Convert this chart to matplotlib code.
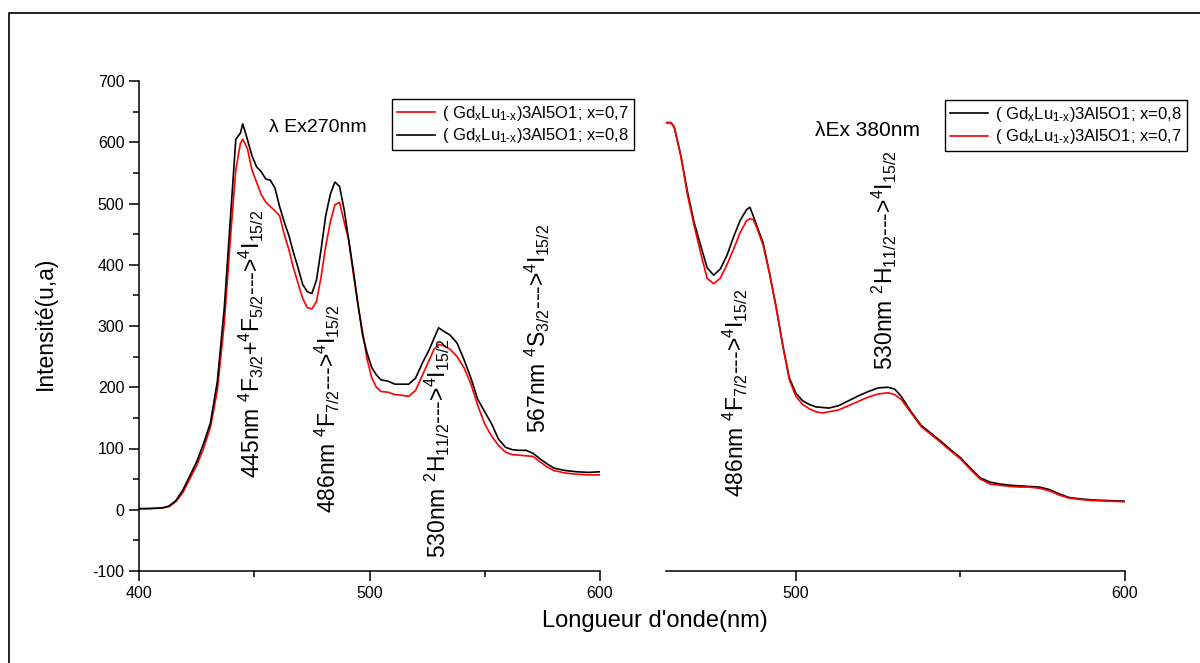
import matplotlib
matplotlib.use('Agg')
import matplotlib.pyplot as plt
from matplotlib.patches import Rectangle
from matplotlib.ticker import MultipleLocator

plt.rcParams['font.family'] = ['Liberation Sans', 'DejaVu Sans']
plt.rcParams['mathtext.default'] = 'regular'
plt.rcParams['axes.unicode_minus'] = False

# excitation at 270 nm
wl_270 = [400, 405, 410, 413, 416, 419, 422, 425, 428, 431, 434, 437, 440, 442, 444, 445,
          447, 449, 451, 453, 455, 457, 459, 461, 463, 465, 467, 469, 471, 473, 475, 477,
          479, 481, 483, 485, 487, 489, 491, 493, 495, 497, 499, 501, 503, 505, 508, 511,
          514, 517, 520, 523, 526, 528, 530, 532, 535, 538, 541, 544, 547, 550, 553, 556,
          559, 562, 565, 568, 571, 574, 577, 580, 585, 590, 595, 600]
i270_x08 = [2, 2, 3, 6, 15, 32, 55, 78, 108, 142, 210, 330, 495, 605, 615, 630,
            605, 578, 560, 552, 540, 538, 525, 495, 470, 448, 420, 395, 368, 356, 353, 375,
            425, 480, 515, 535, 528, 490, 440, 390, 335, 285, 255, 232, 220, 212, 210, 205,
            205, 205, 215, 240, 262, 280, 297, 292, 285, 272, 245, 215, 180, 160, 140, 115,
            102, 98, 97, 97, 92, 83, 75, 68, 64, 62, 61, 62]
i270_x07 = [1, 2, 3, 5, 13, 28, 50, 72, 100, 135, 195, 305, 460, 555, 598, 605,
            590, 555, 535, 515, 502, 495, 488, 480, 450, 425, 395, 370, 345, 330, 328, 340,
            380, 430, 470, 498, 502, 470, 440, 385, 335, 290, 245, 215, 200, 193, 192, 188,
            187, 185, 195, 220, 245, 262, 270, 268, 262, 250, 232, 205, 170, 140, 120, 105,
            94, 90, 89, 88, 87, 78, 70, 64, 60, 58, 57, 57]

# excitation at 380 nm
wl_380 = [460.5, 462, 463, 465, 467, 469, 471, 473, 475, 477, 479, 481, 483, 485, 486, 487,
          488, 490, 492, 494, 496, 498, 500, 502, 504, 506, 508, 510, 513, 516, 519, 522,
          525, 528, 530, 532, 535, 538, 541, 544, 547, 550, 553, 556, 559, 562, 565, 568,
          571, 574, 577, 580, 583, 586, 590, 595, 600]
i380_x08 = [632, 632, 625, 578, 520, 470, 432, 395, 383, 393, 415, 445, 472, 490, 494, 480,
            465, 436, 385, 330, 268, 215, 190, 178, 172, 168, 167, 166, 170, 178, 186, 193,
            199, 200, 197, 185, 160, 138, 125, 112, 98, 85, 68, 52, 45, 42, 40, 39,
            38, 37, 33, 26, 20, 18, 16, 15, 14]
i380_x07 = [632, 632, 625, 578, 515, 465, 420, 378, 369, 378, 400, 425, 452, 472, 475, 474,
            462, 432, 385, 330, 268, 212, 185, 172, 165, 160, 158, 160, 163, 170, 177, 184,
            189, 191, 188, 180, 158, 136, 123, 110, 96, 83, 66, 50, 42, 40, 38, 37,
            37, 35, 31, 24, 19, 17, 15, 14, 13]

lab07 = '( Gd$_x$Lu$_{1\u2010x}$)3Al5O1; x=0,7'
lab08 = '( Gd$_x$Lu$_{1\u2010x}$)3Al5O1; x=0,8'

fig = plt.figure(figsize=(12, 6.63), dpi=100)
ax1 = fig.add_axes([139 / 1200, 92 / 663, 461 / 1200, 490 / 663])
ax2 = fig.add_axes([666 / 1200, 92 / 663, 459 / 1200, 490 / 663], sharey=ax1)

l07, = ax1.plot(wl_270, i270_x07, color='red', lw=1.2)
l08, = ax1.plot(wl_270, i270_x08, color='black', lw=1.2)
r08, = ax2.plot(wl_380, i380_x08, color='black', lw=1.2)
r07, = ax2.plot(wl_380, i380_x07, color='red', lw=1.2)

ax1.set_xlim(400, 600)
ax1.set_ylim(-100, 700)
ax2.set_xlim(460.5, 600)

for ax in (ax1, ax2):
    for s in ('top', 'right'):
        ax.spines[s].set_visible(False)
    ax.spines['bottom'].set_linewidth(1.1)
    ax.spines['left'].set_linewidth(1.1)
    ax.xaxis.set_major_locator(MultipleLocator(100))
    ax.xaxis.set_minor_locator(MultipleLocator(50))
    ax.tick_params(which='major', direction='out', length=7, width=1.1, labelsize=11.5)
    ax.tick_params(which='minor', direction='out', length=4, width=1.1)
ax1.yaxis.set_major_locator(MultipleLocator(100))
ax1.yaxis.set_minor_locator(MultipleLocator(50))
ax2.spines['left'].set_visible(False)
ax2.tick_params(axis='y', which='both', left=False, labelleft=False)

# transitions
fs = 16.5
ax1.text(449, 52, '445nm $^4$F$_{3/2}$+$^4$F$_{5/2}$--->$^4$I$_{15/2}$',
         rotation=90, ha='center', va='bottom', fontsize=fs)
ax1.text(481.6, -5, '486nm $^4$F$_{7/2}$--->$^4$I$_{15/2}$',
         rotation=90, ha='center', va='bottom', fontsize=fs)
ax1.text(529.3, -79, '530nm $^2$H$_{11/2}$--->$^4$I$_{15/2}$',
         rotation=90, ha='center', va='bottom', fontsize=fs)
ax1.text(572.7, 125, '567nm $^4$S$_{3/2}$--->$^4$I$_{15/2}$',
         rotation=90, ha='center', va='bottom', fontsize=fs)
ax2.text(481.5, 21, '486nm $^4$F$_{7/2}$--->$^4$I$_{15/2}$',
         rotation=90, ha='center', va='bottom', fontsize=fs)
ax2.text(527, 228, '530nm $^2$H$_{11/2}$--->$^4$I$_{15/2}$',
         rotation=90, ha='center', va='bottom', fontsize=fs)

ax1.text(456.4, 624, 'λ Ex270nm', fontsize=14, va='center')
ax2.text(505.8, 619, 'λEx 380nm', fontsize=15, va='center')

leg_kw = dict(loc='upper left', fontsize=12, frameon=True, fancybox=False,
              edgecolor='black', borderpad=0.3, handlelength=2.3,
              handletextpad=0.4, labelspacing=0.2, borderaxespad=0)
lg1 = fig.legend([l07, l08], [lab07, lab08], bbox_to_anchor=(392 / 1200, 1 - 99 / 663), **leg_kw)
lg2 = fig.legend([r08, r07], [lab08, lab07], bbox_to_anchor=(945 / 1200, 1 - 100 / 663), **leg_kw)
for lg in (lg1, lg2):
    lg.get_frame().set_linewidth(1.0)
    lg.get_frame().set_alpha(1)

fig.text(45 / 1200, 1 - 323 / 663, 'Intensité(u,a)', rotation=90, ha='center', va='center', fontsize=16.5)
fig.text(655 / 1200, 1 - 621 / 663, "Longueur d'onde(nm)", ha='center', va='center', fontsize=17)

# outer frame (only top and left edges fall inside the image)
fig.add_artist(Rectangle((9 / 1200, -0.2), 1.5, 1.2 - 13 / 663, transform=fig.transFigure,
                         fill=False, lw=1.2, edgecolor='black', clip_on=False))

fig.savefig('out.png', dpi=100)
